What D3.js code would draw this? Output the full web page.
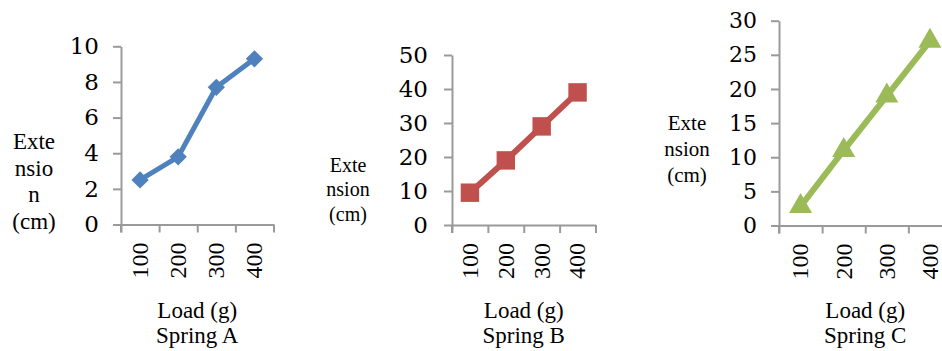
<!DOCTYPE html>
<html>
<head>
<meta charset="utf-8">
<script src="https://cdn.jsdelivr.net/npm/d3@7"></script>
<style>
  html, body { margin: 0; padding: 0; background: #fff; overflow: hidden; }
  svg { display: block; }
</style>
</head>
<body>
<svg id="chart" width="942" height="351"></svg>
<script>
// Load categories shared by all three springs
const loads = ["100", "200", "300", "400"];

// Extension (cm) for each spring
const springA = [2.5, 3.8, 7.7, 9.3];
const springB = [9.5, 19, 29, 39];
const springC = [2.8, 11, 19, 27];

// Y-axis tick values per panel
const ticksA = [0, 2, 4, 6, 8, 10];
const ticksB = [0, 10, 20, 30, 40, 50];
const ticksC = [0, 5, 10, 15, 20, 25, 30];

// Panel captions
const captionA = "Spring A";
const captionB = "Spring B";
const captionC = "Spring C";
const xTitle = "Load (g)";
const yTitleA = ["Exte", "nsio", "n", "(cm)"];
const yTitleB = ["Exte", "nsion", "(cm)"];
const yTitleC = ["Exte", "nsion", "(cm)"];

const SERIF = "'Liberation Serif', 'Times New Roman', Times, serif";
const NUM = "'DejaVu Serif', 'Liberation Serif', serif";

const svg = d3.select("#chart");
const axisColor = "#9a9a9a";

function panel(cfg) {
  const g = svg.append("g");
  const x = d3.scaleBand().domain(loads).range([cfg.x0, cfg.x1]).padding(0);
  const y = d3.scaleLinear().domain([0, d3.max(cfg.ticks)]).range([cfg.yBottom, cfg.yTop]);

  // y axis: line, outward ticks and labels
  const yAxis = g.append("g")
    .attr("transform", `translate(${cfg.x0},0)`)
    .call(d3.axisLeft(y).tickValues(cfg.ticks).tickSize(8).tickSizeOuter(0).tickPadding(cfg.yPad));
  yAxis.attr("font-family", NUM).attr("font-size", cfg.yFont);
  yAxis.select(".domain").attr("stroke", axisColor).attr("stroke-width", 2);
  yAxis.selectAll(".tick line").attr("stroke", axisColor).attr("stroke-width", 2);
  yAxis.selectAll(".tick text")
    .attr("font-size", cfg.yFont)
    .attr("font-family", NUM)
    .attr("fill", "#000");

  // extend the y axis line down through the tick length below the x axis
  g.append("line")
    .attr("x1", cfg.x0).attr("x2", cfg.x0)
    .attr("y1", cfg.yBottom).attr("y2", cfg.yBottom + 8)
    .attr("stroke", axisColor).attr("stroke-width", 2);

  // x axis: ticks at the category boundaries
  const edge = d3.scaleLinear().domain([0, loads.length]).range([cfg.x0, cfg.x1]);
  const xAxis = g.append("g")
    .attr("transform", `translate(0,${cfg.yBottom})`)
    .call(d3.axisBottom(edge).tickValues(d3.range(loads.length + 1)).tickSize(8).tickSizeOuter(0).tickFormat(""));
  xAxis.select(".domain").attr("stroke", axisColor).attr("stroke-width", 2);
  xAxis.selectAll(".tick line").attr("stroke", axisColor).attr("stroke-width", 2);

  // rotated category labels
  g.selectAll(".xlab").data(loads).join("text")
    .attr("class", "xlab")
    .attr("font-family", SERIF)
    .attr("font-size", 24)
    .attr("fill", "#000")
    .attr("text-anchor", "end")
    .attr("dy", "0.33em")
    .attr("transform", d => `translate(${x(d) + x.bandwidth() / 2},${cfg.yBottom + 18}) rotate(-90)`)
    .text(d => d);

  // series line
  const line = d3.line()
    .x((d, i) => x(loads[i]) + x.bandwidth() / 2)
    .y(d => y(d));
  g.append("path")
    .datum(cfg.values)
    .attr("fill", "none")
    .attr("stroke", cfg.color)
    .attr("stroke-width", cfg.lineWidth)
    .attr("stroke-linejoin", "round")
    .attr("d", line);

  // markers
  g.selectAll(".mk").data(cfg.values).join("path")
    .attr("class", "mk")
    .attr("fill", cfg.color)
    .attr("transform", (d, i) => `translate(${x(loads[i]) + x.bandwidth() / 2},${y(d)})`)
    .attr("d", d3.symbol().type(cfg.symbol).size(cfg.symbolSize));

  // y title, stacked lines
  g.append("text")
    .attr("font-family", SERIF)
    .attr("font-size", cfg.titleFont)
    .attr("fill", "#000")
    .attr("text-anchor", "middle")
    .selectAll("tspan").data(cfg.yTitle).join("tspan")
    .attr("x", cfg.titleX)
    .attr("y", (d, i) => cfg.titleY + i * cfg.titleStep)
    .text(d => d);

  // x title and caption, centred under the plot
  const mid = (cfg.x0 + cfg.x1) / 2;
  g.append("text")
    .attr("font-family", SERIF).attr("fill", "#000")
    .attr("font-size", 23).attr("text-anchor", "middle")
    .attr("x", mid).attr("y", 318).text(xTitle);
  g.append("text")
    .attr("font-family", SERIF).attr("fill", "#000")
    .attr("font-size", 23).attr("text-anchor", "middle")
    .attr("x", mid).attr("y", 343).text(cfg.caption);
}

panel({
  values: springA, ticks: ticksA, color: "#4F81BD",
  x0: 121, x1: 273.5, yTop: 46.3, yBottom: 224.5,
  yFont: 23, yPad: 14,
  symbol: d3.symbolDiamond2 || d3.symbolSquare, symbolSize: 190, lineWidth: 5,
  yTitle: yTitleA, titleX: 34, titleY: 149, titleStep: 26.5, titleFont: 23,
  caption: captionA
});

panel({
  values: springB, ticks: ticksB, color: "#C0504D",
  x0: 452, x1: 595.5, yTop: 55, yBottom: 225,
  yFont: 23, yPad: 16,
  symbol: d3.symbolSquare, symbolSize: 340, lineWidth: 6,
  yTitle: yTitleB, titleX: 348, titleY: 171.5, titleStep: 24.5, titleFont: 20,
  caption: captionB
});

panel({
  values: springC, ticks: ticksC, color: "#9BBB59",
  x0: 779, x1: 951.5, yTop: 20.7, yBottom: 225.5,
  yFont: 22, yPad: 14,
  symbol: d3.symbolTriangle, symbolSize: 230, lineWidth: 6,
  yTitle: yTitleC, titleX: 687, titleY: 130, titleStep: 26, titleFont: 21,
  caption: captionC
});
</script>
</body>
</html>
